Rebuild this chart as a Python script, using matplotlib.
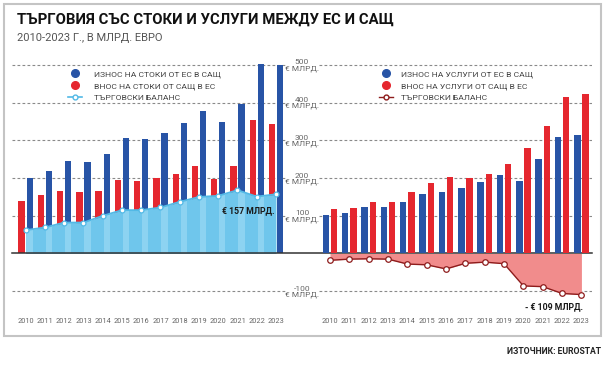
import numpy as np
import matplotlib
matplotlib.use("Agg")
import matplotlib.pyplot as plt
from matplotlib.lines import Line2D
from matplotlib.patches import Rectangle

plt.rcParams['font.family'] = ['Roboto', 'DejaVu Sans']

years = np.arange(2010, 2024)

# goods, bn EUR
goods_export = [200, 220, 246, 242, 263, 306, 304, 319, 347, 379, 348, 396, 503, 500]
goods_import = [140, 154, 165, 162, 167, 195, 193, 201, 211, 232, 198, 231, 355, 344]
goods_balance = [62, 69, 82, 82, 100, 115, 115, 122, 137, 150, 153, 168, 151, 157]

# services, bn EUR
serv_export = [101, 108, 123, 123, 137, 158, 164, 174, 190, 209, 193, 251, 309, 315]
serv_import = [119, 121, 136, 137, 163, 188, 204, 201, 212, 237, 279, 337, 416, 424]
serv_balance = [-18, -15, -14, -15, -28, -30, -41, -26, -23, -27, -86, -88, -106, -109]

grid_vals = [-100, 100, 200, 300, 400, 500]
grid_labels = ['-100\n€ МЛРД.', '100\n€ МЛРД.', '200\n€ МЛРД.', '300\n€ МЛРД.',
               '400\n€ МЛРД.', '500\n€ МЛРД.']

BLUE = '#2854a6'
RED = '#e5272f'
LBLUE = '#6fc6ec'
LBLUE_LINE = '#52b9e6'
PINK = '#f18c8c'
DRED = '#8e1c1c'
GRAY = '#666666'

W, H = 605, 367
fig = plt.figure(figsize=(W / 100, H / 100), dpi=100)


def px_rect(x0, y0, x1, y1):
    return [x0 / W, 1 - y1 / H, (x1 - x0) / W, (y1 - y0) / H]


# outer frame
fig.patches.append(Rectangle((4 / W, 1 - 336 / H), 597 / W, 332 / H,
                             transform=fig.transFigure, fill=False,
                             edgecolor='#c4c4c4', linewidth=1.5))

fig.text(17 / W, 1 - 20 / H, 'ТЪРГОВИЯ СЪС СТОКИ И УСЛУГИ МЕЖДУ ЕС И САЩ',
         fontsize=10.7, fontweight='bold', color='#111111', va='center')
fig.text(17 / W, 1 - 38 / H, '2010-2023 Г., В МЛРД. ЕВРО',
         fontsize=8, color='#555555', va='center')
fig.text(601 / W, 1 - 352 / H, 'ИЗТОЧНИК: EUROSTAT', fontsize=6.2,
         fontweight='bold', color='#222222', ha='right', va='center')

ytop, ybot = 526.5, -149.9
ax1 = fig.add_axes(px_rect(12, 55, 286, 310))
ax2 = fig.add_axes(px_rect(319, 55, 592, 310))
ax1.set_xlim(2009.288, 2023.52)
ax2.set_xlim(2009.431, 2023.547)

for ax in (ax1, ax2):
    ax.set_ylim(ybot, ytop)
    for s in ax.spines.values():
        s.set_visible(False)
    for v in grid_vals:
        ax.axhline(v, color='#8a8a8a', linewidth=0.8, linestyle=(0, (2.5, 2)), zorder=1)
    ax.set_xticks(years)
    ax.set_xticklabels([str(y) for y in years], fontsize=5.3, color=GRAY)
    ax.tick_params(axis='x', length=0, pad=6)
    ax.patch.set_alpha(0)

ax1.set_yticks([])
ax2.set_yticks(grid_vals)
ax2.set_yticklabels(grid_labels, fontsize=6, color=GRAY, linespacing=0.95)
ax2.tick_params(axis='y', length=0, pad=0)
for lbl in ax2.get_yticklabels():
    lbl.set_multialignment('center')

# zero line across both panels
ax1.axhline(0, xmin=0, xmax=(592 - 12) / (286 - 12), color='#333333',
            linewidth=1.1, clip_on=False, zorder=6)

bw = 0.33
off = 0.21

# goods panel
ax1.bar(years - off, goods_import, width=bw, color=RED, zorder=2)
ax1.bar(years + off, goods_export, width=bw, color=BLUE, zorder=2)
poly = ax1.fill_between(years, 0, goods_balance, color=LBLUE, zorder=3, linewidth=0)
stripes = ax1.bar(years + off, np.array(goods_balance) + 30, width=bw,
                  color='#8dd3f1', zorder=3.5)
for b in stripes:
    b.set_clip_path(poly.get_paths()[0], ax1.transData)
ax1.plot(years, goods_balance, color=LBLUE_LINE, linewidth=1.3, zorder=4,
         marker='o', markersize=3.5, markerfacecolor='white',
         markeredgecolor=LBLUE_LINE, markeredgewidth=0.9)
ax1.text(2022.9, 113, '€ 157 МЛРД.', fontsize=6.3, fontweight='bold',
         color='#1a1a1a', ha='right', va='center', zorder=7)

# services panel
ax2.bar(years - off, serv_export, width=bw, color=BLUE, zorder=2)
ax2.bar(years + off, serv_import, width=bw, color=RED, zorder=2)
ax2.fill_between(years, 0, serv_balance, color=PINK, zorder=3, linewidth=0)
ax2.plot(years, serv_balance, color=DRED, linewidth=1.0, zorder=4,
         marker='o', markersize=4, markerfacecolor='white',
         markeredgecolor=DRED, markeredgewidth=0.9)
ax2.text(2023.1, -142, '- € 109 МЛРД.', fontsize=6.3, fontweight='bold',
         color='#1a1a1a', ha='right', va='center', zorder=7, clip_on=False)

# legends
h1 = [Line2D([], [], linestyle='none', marker='o', markersize=5.5, color=BLUE),
      Line2D([], [], linestyle='none', marker='o', markersize=5.5, color=RED),
      Line2D([], [], color=LBLUE_LINE, linewidth=1.2, marker='o', markersize=3.5,
             markerfacecolor='white', markeredgecolor=LBLUE_LINE)]
l1 = ['ИЗНОС НА СТОКИ ОТ ЕС В САЩ', 'ВНОС НА СТОКИ ОТ САЩ В ЕС', 'ТЪРГОВСКИ БАЛАНС']
leg1 = ax1.legend(h1, l1, loc='upper left', bbox_to_anchor=(68 / W, 1 - 70.5 / H),
                  bbox_transform=fig.transFigure, frameon=False, fontsize=6.1,
                  handlelength=1.6, handletextpad=1.45, labelspacing=0.5,
                  borderpad=0, borderaxespad=0)
for t in leg1.get_texts():
    t.set_color('#444444')

h2 = [Line2D([], [], linestyle='none', marker='o', markersize=5.5, color=BLUE),
      Line2D([], [], linestyle='none', marker='o', markersize=5.5, color=RED),
      Line2D([], [], color=DRED, linewidth=1.0, marker='o', markersize=3.5,
             markerfacecolor='white', markeredgecolor=DRED)]
l2 = ['ИЗНОС НА УСЛУГИ ОТ ЕС В САЩ', 'ВНОС НА УСЛУГИ ОТ САЩ В ЕС', 'ТЪРГОВСКИ БАЛАНС']
leg2 = ax2.legend(h2, l2, loc='upper left', bbox_to_anchor=(379 / W, 1 - 70.5 / H),
                  bbox_transform=fig.transFigure, frameon=False, fontsize=6.1,
                  handlelength=1.6, handletextpad=0.95, labelspacing=0.5,
                  borderpad=0, borderaxespad=0)
for t in leg2.get_texts():
    t.set_color('#444444')

fig.savefig('out.png', dpi=100)
